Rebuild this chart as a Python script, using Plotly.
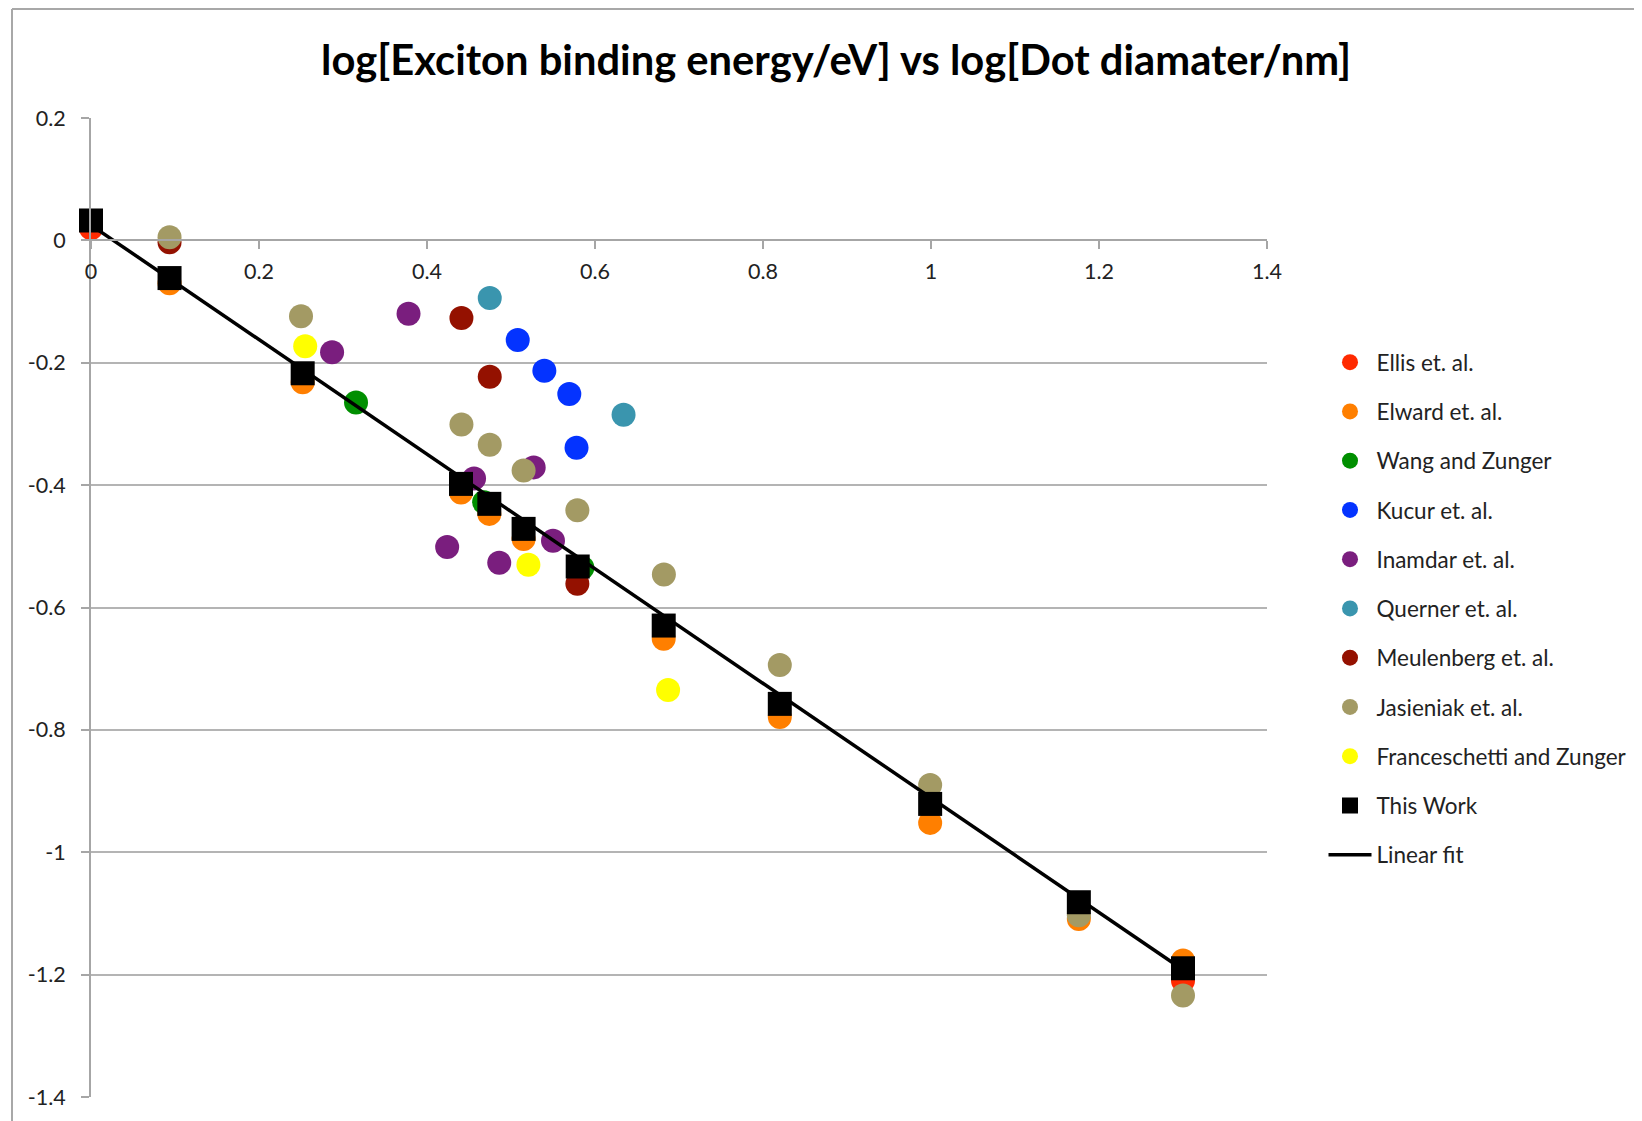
import plotly.graph_objects as go

# ---- data (log10 diameter / nm, log10 exciton binding energy / eV) ----
ellis_x = [0.0, 1.300]
ellis_y = [0.020, -1.210]

elward_x = [0.0935, 0.252, 0.4405, 0.4742, 0.515, 0.6818, 0.820, 0.999, 1.176, 1.300]
elward_y = [-0.070, -0.232, -0.412, -0.447, -0.488, -0.651, -0.779, -0.952, -1.109, -1.177]

wang_x = [0.3155, 0.468, 0.585]
wang_y = [-0.265, -0.428, -0.535]

kucur_x = [0.508, 0.5397, 0.5694, 0.578]
kucur_y = [-0.163, -0.213, -0.251, -0.339]

inamdar_x = [0.378, 0.287, 0.456, 0.527, 0.424, 0.486, 0.550]
inamdar_y = [-0.120, -0.183, -0.389, -0.371, -0.501, -0.527, -0.491]

querner_x = [0.4747, 0.634]
querner_y = [-0.094, -0.285]

meulenberg_x = [0.0935, 0.441, 0.4747, 0.579]
meulenberg_y = [-0.003, -0.127, -0.223, -0.561]

jasieniak_x = [0.0935, 0.250, 0.441, 0.4747, 0.515, 0.579, 0.682, 0.820, 0.999, 1.176, 1.300]
jasieniak_y = [0.005, -0.124, -0.301, -0.334, -0.376, -0.441, -0.546, -0.694, -0.890, -1.103, -1.234]

france_x = [0.255, 0.5207, 0.687]
france_y = [-0.173, -0.530, -0.735]

thiswork_x = [0.0, 0.0935, 0.252, 0.4405, 0.4742, 0.515, 0.5794, 0.6818, 0.820, 0.999, 1.176, 1.300]
thiswork_y = [0.0325, -0.0616, -0.2172, -0.398, -0.4306, -0.4715, -0.533, -0.6295, -0.7575, -0.921, -1.0817, -1.1896]

fit_x = [0.0, 1.300]
fit_y = [0.025, -1.192]

x_ticks = [0, 0.2, 0.4, 0.6, 0.8, 1.0, 1.2, 1.4]
x_tick_labels = ["0", "0.2", "0.4", "0.6", "0.8", "1", "1.2", "1.4"]
y_ticks = [0.2, 0, -0.2, -0.4, -0.6, -0.8, -1.0, -1.2, -1.4]
y_tick_labels = ["0.2", "0", "-0.2", "-0.4", "-0.6", "-0.8", "-1", "-1.2", "-1.4"]

title_text = "log[Exciton binding energy/eV] vs log[Dot diamater/nm]"

FONT = "Lato"
MS = 24

series = [
    ("Ellis et. al.", ellis_x, ellis_y, "#FF2A00"),
    ("Elward et. al.", elward_x, elward_y, "#FF7F00"),
    ("Wang and Zunger", wang_x, wang_y, "#008F00"),
    ("Kucur et. al.", kucur_x, kucur_y, "#0433FF"),
    ("Inamdar et. al.", inamdar_x, inamdar_y, "#7A1E7E"),
    ("Querner et. al.", querner_x, querner_y, "#3A95AE"),
    ("Meulenberg et. al.", meulenberg_x, meulenberg_y, "#941100"),
    ("Jasieniak et. al.", jasieniak_x, jasieniak_y, "#A39A64"),
    ("Franceschetti and Zunger", france_x, france_y, "#FFFF00"),
]

fig = go.Figure()
for i, (name, xs, ys, col) in enumerate(series):
    fig.add_trace(go.Scatter(
        x=xs, y=ys, mode="markers", name=name, legendgroup=f"g{i}", cliponaxis=False,
        marker=dict(color=col, size=MS, symbol="circle", line=dict(width=0)),
    ))

fig.add_trace(go.Scatter(
    x=thiswork_x, y=thiswork_y, mode="markers", name="This Work", legendgroup="g9",
    cliponaxis=False,
    marker=dict(color="black", size=MS, symbol="square", line=dict(width=0)),
))
fig.add_trace(go.Scatter(
    x=fit_x, y=fit_y, mode="lines", name="Linear fit", legendgroup="g10",
    cliponaxis=False,
    line=dict(color="black", width=3.5),
))

OFF = 7  # page body margin compensation
L, R, T, B = 90 - OFF, 376 + OFF, 117 - OFF, 25 + OFF
W, H = 1642, 1121
pw = W - L - R
ph = H - T - B

fig.update_layout(
    width=W, height=H,
    margin=dict(l=L, r=R, t=T, b=B),
    paper_bgcolor="white", plot_bgcolor="white",
    title=dict(text=f"<b>{title_text}</b>", x=(835 - OFF) / W, xref="container",
               xanchor="center", y=1 - (59 - OFF) / H, yanchor="middle",
               font=dict(family=FONT, size=41.7, color="black")),
    font=dict(family=FONT, color="#222222"),
    showlegend=True,
    legend=dict(
        x=(1322.5 - 90) / pw, xanchor="left",
        y=(1121 - 25 - 340) / ph, yanchor="top",
        font=dict(family=FONT, size=22.5, color="#222222"),
        traceorder="grouped", tracegroupgap=17,
        bgcolor="rgba(0,0,0,0)", itemsizing="trace", itemwidth=43,
    ),
    xaxis=dict(
        range=[0, 1.4], tickvals=x_ticks, ticktext=x_tick_labels,
        anchor="free", position=(0 - (-1.4)) / 1.6,
        showline=True, linecolor="#A6A6A6", linewidth=2,
        ticks="outside", ticklen=8, tickwidth=2, tickcolor="#A6A6A6",
        showgrid=False, zeroline=False,
        tickfont=dict(family=FONT, size=21.5, color="#222222"),
        ticklabelstandoff=4,
    ),
    yaxis=dict(
        range=[-1.4, 0.2], tickvals=y_ticks, ticktext=y_tick_labels,
        showline=True, linecolor="#A6A6A6", linewidth=2,
        ticks="outside", ticklen=8, tickwidth=2, tickcolor="#A6A6A6",
        showgrid=True, gridcolor="#B4B4B4", gridwidth=2, zeroline=False,
        tickfont=dict(family=FONT, size=21.5, color="#222222"),
        ticklabelstandoff=11,
    ),
)

# outer chart frame (top and left edges visible in the reference)
fx = (4 - L) / pw
fy = 1 + (T - 1) / ph
fig.add_shape(type="line", xref="paper", yref="paper", x0=fx, x1=2.0, y0=fy, y1=fy,
              line=dict(color="#A8A8A8", width=2))
fig.add_shape(type="line", xref="paper", yref="paper", x0=fx, x1=fx, y0=-0.2, y1=fy,
              line=dict(color="#A8A8A8", width=2))

fig.write_html("out.html")
